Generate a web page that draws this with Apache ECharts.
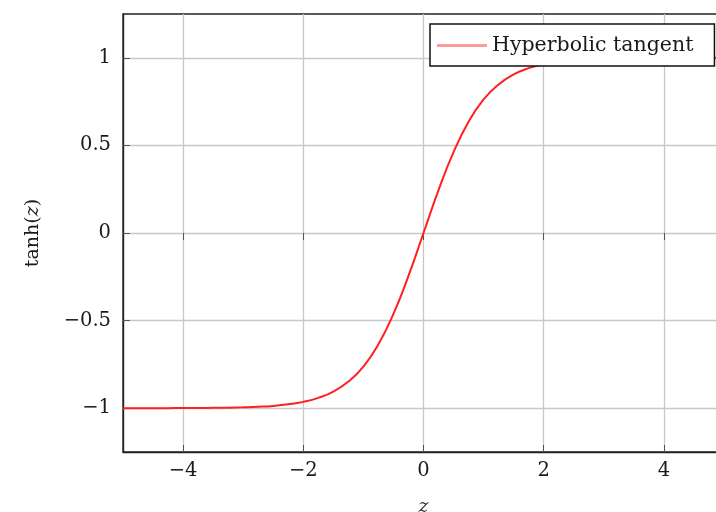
<!DOCTYPE html>
<html>
<head>
<meta charset="UTF-8">
<title>tanh</title>
<script src="https://cdn.jsdelivr.net/npm/echarts@6/dist/echarts.min.js"></script>
<style>
  html, body { margin: 0; padding: 0; background: #fff; }
  #chart { width: 716px; height: 512px; }
</style>
</head>
<body>
<div id="chart"></div>
<script>
// z positions and curve values
var zValues = [-5, -4.75, -4.5, -4.25, -4, -3.75, -3.5, -3.25, -3, -2.75, -2.5, -2.25, -2, -1.75, -1.5, -1.25, -1, -0.75, -0.5, -0.25,
  0, 0.25, 0.5, 0.75, 1, 1.25, 1.5, 1.75, 2, 2.25, 2.5, 2.75, 3, 3.25, 3.5, 3.75, 4, 4.25, 4.5, 4.75, 5];
var tanhValues = [-1.0, -1.0, -1.0, -1.0, -0.999, -0.999, -0.998, -0.997, -0.995, -0.992, -0.987, -0.978, -0.964, -0.941, -0.905, -0.848, -0.762, -0.635, -0.462, -0.245,
  0, 0.245, 0.462, 0.635, 0.762, 0.848, 0.905, 0.941, 0.964, 0.978, 0.987, 0.992, 0.995, 0.997, 0.998, 0.999, 0.999, 1.0, 1.0, 1.0, 1.0];
var xTicks = [-4, -2, 0, 2, 4];
var yTicks = [-1, -0.5, 0, 0.5, 1];

var points = zValues.map(function (z, i) { return [z, tanhValues[i]]; });
var font = '"DejaVu Serif", serif';

function fmt(v) {
  return String(v).replace('-', '\u2212');
}

var chart = echarts.init(document.getElementById('chart'));
chart.setOption({
  animation: false,
  grid: {
    left: 123, top: 14, width: 601, height: 438,
    outerBoundsMode: 'none', containLabel: false,
    show: true, borderColor: '#222', borderWidth: 1.3
  },
  legend: {
    data: ['Hyperbolic tangent'],
    left: 430, top: 24,
    backgroundColor: '#fff',
    borderColor: '#111', borderWidth: 1.5,
    padding: [11, 21, 10, 7],
    itemWidth: 50, itemHeight: 3, itemGap: 6,
    icon: 'rect',
    textStyle: { fontFamily: font, fontSize: 20.5, color: '#1a1a1a' }
  },
  xAxis: [{
    type: 'value', min: -5, max: 5, interval: 1,
    name: 'z', nameLocation: 'middle', nameGap: 46,
    nameTextStyle: { fontFamily: font, fontSize: 19, fontStyle: 'italic', color: '#333' },
    axisLine: { onZero: false, lineStyle: { color: '#222', width: 1.4 } },
    axisTick: { inside: true, length: 7, lineStyle: { color: '#555' }, customValues: xTicks },
    axisLabel: { margin: 9, fontFamily: font, fontSize: 19.5, color: '#1a1a1a', customValues: xTicks, formatter: fmt },
    splitLine: { show: true, lineStyle: { color: '#c8c8c8', width: 1.3 } }
  }, {
    type: 'value', position: 'top', min: -5, max: 5, interval: 1,
    axisLine: { show: false },
    axisTick: { inside: true, length: 7, lineStyle: { color: '#555' }, customValues: xTicks },
    axisLabel: { show: false },
    splitLine: { show: false }
  }],
  yAxis: {
    type: 'value', min: -1.25, max: 1.25, interval: 0.25,
    name: '{a|tanh(}{b|z}{a|)}', nameLocation: 'middle', nameGap: 80, nameRotate: 90,
    nameTextStyle: {
      fontFamily: font, fontSize: 19, color: '#1a1a1a',
      rich: {
        a: { fontFamily: font, fontSize: 19, color: '#1a1a1a' },
        b: { fontFamily: font, fontSize: 19, color: '#1a1a1a', fontStyle: 'italic' }
      }
    },
    axisLine: { show: true, onZero: false, lineStyle: { color: '#222', width: 1.4 } },
    axisTick: { show: true, inside: true, length: 7, lineStyle: { color: '#555' }, customValues: yTicks },
    axisLabel: { margin: 12, fontFamily: font, fontSize: 19.5, color: '#1a1a1a', customValues: yTicks, formatter: fmt },
    splitLine: { show: true, lineStyle: { color: '#c8c8c8', width: 1.3 } }
  },
  series: [{
    name: 'Hyperbolic tangent',
    type: 'line',
    data: points,
    smooth: true,
    showSymbol: false,
    color: '#ff2020',
    lineStyle: { width: 2, color: '#ff2020' },
    itemStyle: { color: '#ff9a9a' },
    z: 3
  }]
});
</script>
</body>
</html>
